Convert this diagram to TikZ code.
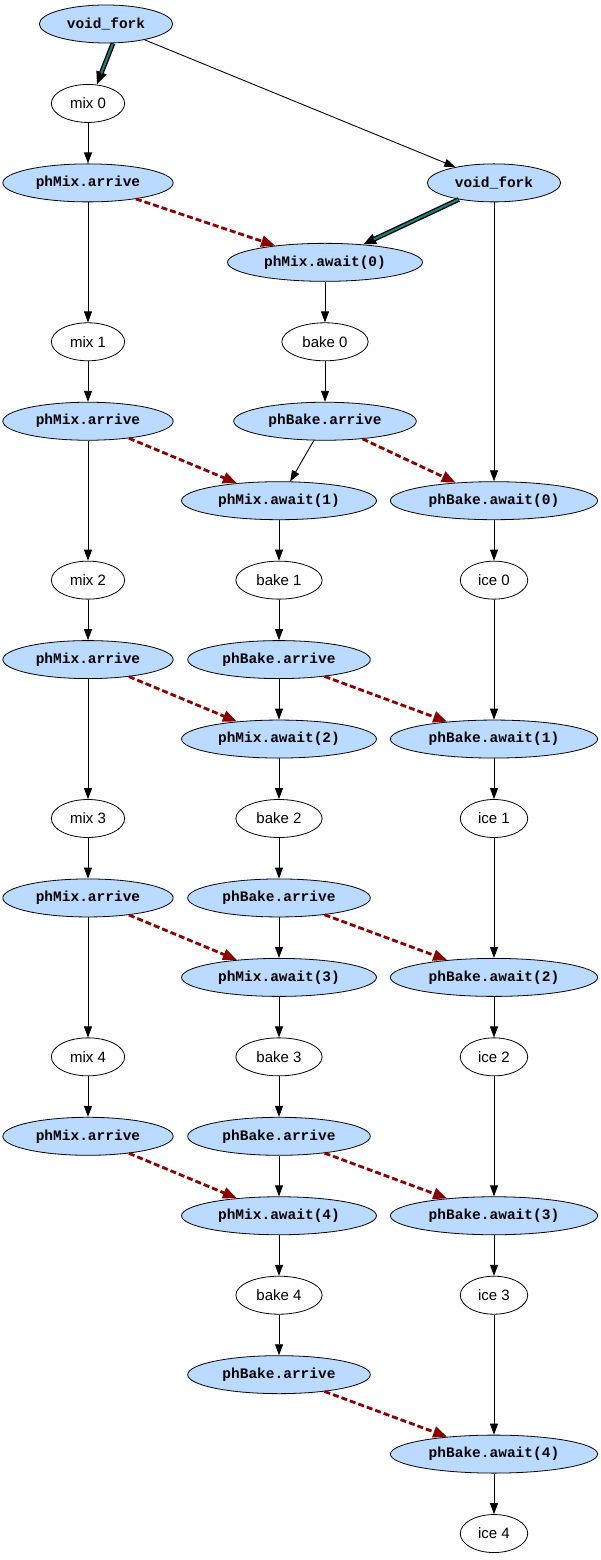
\documentclass[tikz,border=0pt]{standalone}
\usepackage{fontspec}
\setmainfont{Liberation Sans}
\setmonofont{Liberation Mono}
\usetikzlibrary{shapes.geometric,arrows.meta}
\definecolor{phblue}{RGB}{186,218,255}
\definecolor{forkteal}{RGB}{20,135,128}
\definecolor{syncred}{RGB}{139,0,0}
\tikzset{
  task/.style={ellipse, draw, line width=0.8pt, inner xsep=8pt, inner ysep=0pt, minimum height=38pt},
  sync/.style={task, fill=phblue, font=\fontsize{14.5}{17}\selectfont\ttfamily\bfseries},
  flow/.style={line width=0.9pt, -{Stealth[length=11pt,width=8pt,inset=0pt]}},
  wait/.style={syncred, line width=2.8pt, dash pattern=on 6pt off 3pt, -{Stealth[length=14pt,width=11pt,inset=0pt]}},
  forkout/.style={line width=4.8pt, -{Stealth[length=13pt,width=10pt,inset=0pt]}},
  forkin/.style={forkteal, line width=2pt, shorten >=12pt, shorten <=0.6pt}
}
\begin{document}
\begin{tikzpicture}[x=1pt, y=-79.45pt, font=\fontsize{15}{18}\selectfont, line join=round]
  \useasboundingbox (0,-0.302) rectangle (600,19.333);
  % forks
  \node[sync] (fork1) at (106,0) {void\_fork};
  \node[sync] (fork2) at (494,2) {void\_fork};
  % mix column
  \foreach \k in {0,...,4} {
    \node[task] (mix\k) at (88,{1+3*\k}) {mix \k};
    \node[sync] (marr\k) at (88,{2+3*\k}) {phMix.arrive};
  }
  % bake and ice columns
  \foreach \k [evaluate=\k as \xm using {\k==0 ? 325 : 279}] in {0,...,4} {
    \node[sync] (maw\k) at (\xm,{3+3*\k}) {phMix.await(\k)};
    \node[task] (bake\k) at (\xm,{4+3*\k}) {bake \k};
    \node[sync] (barr\k) at (\xm,{5+3*\k}) {phBake.arrive};
    \node[sync] (baw\k) at (494,{6+3*\k}) {phBake.await(\k)};
    \node[task] (ice\k) at (494,{7+3*\k}) {ice \k};
  }
  % fork edges
  \draw[forkout] (fork1.-70) -- (mix0.65);
  \draw[forkin] (fork1.-70) -- (mix0.65);
  \draw[forkout] (fork2) -- (maw0);
  \draw[forkin] (fork2) -- (maw0);
  \draw[flow] (fork1) -- (fork2);
  \draw[flow] (fork2) -- (baw0);
  % chains
  \foreach \k in {0,...,4} {
    \draw[flow] (mix\k) -- (marr\k);
    \draw[wait] (marr\k) -- (maw\k);
    \draw[flow] (maw\k) -- (bake\k);
    \draw[flow] (bake\k) -- (barr\k);
    \draw[wait] (barr\k) -- (baw\k);
    \draw[flow] (baw\k) -- (ice\k);
  }
  \foreach \k [evaluate=\k as \n using int(\k+1)] in {0,...,3} {
    \draw[flow] (marr\k) -- (mix\n);
    \draw[flow] (barr\k) -- (maw\n);
    \draw[flow] (ice\k) -- (baw\n);
  }
\end{tikzpicture}
\end{document}
